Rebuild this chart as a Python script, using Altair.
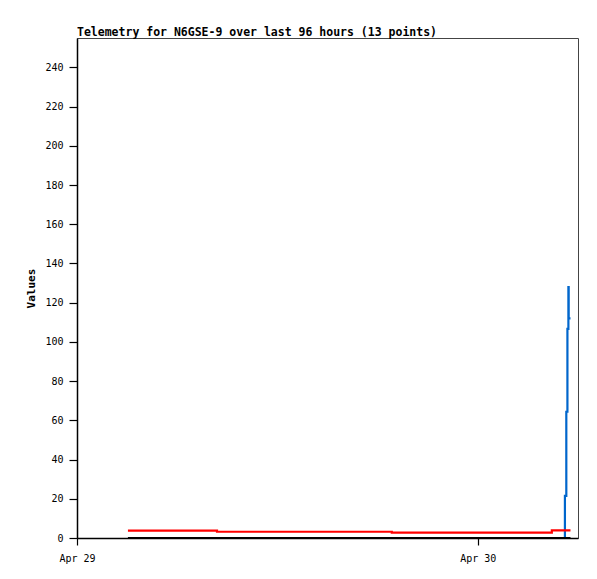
import altair as alt
import pandas as pd

# times (UTC) and values per series
black_times = ["2024-04-29T03:03:00Z", "2024-04-29T08:23:00Z", "2024-04-29T13:30:00Z",
               "2024-04-29T18:51:00Z", "2024-04-29T23:30:00Z", "2024-04-30T04:26:00Z",
               "2024-04-30T05:33:00Z"]
black_vals = [0, 0, 0, 0, 0, 0, 0]

red_times = ["2024-04-29T03:03:00Z", "2024-04-29T08:23:00Z", "2024-04-29T13:30:00Z",
             "2024-04-29T18:51:00Z", "2024-04-29T23:30:00Z", "2024-04-30T04:26:00Z",
             "2024-04-30T05:33:00Z"]
red_vals = [3.8, 3.2, 3.2, 2.7, 2.7, 3.9, 3.9]

blue_times = ["2024-04-29T03:03:00Z", "2024-04-30T05:13:00Z", "2024-04-30T05:18:00Z",
              "2024-04-30T05:22:00Z", "2024-04-30T05:25:30Z", "2024-04-30T05:26:30Z",
              "2024-04-30T05:33:00Z"]
blue_vals = [0, 21.5, 64.4, 106.7, 128, 112, 112]

y_ticks = list(range(0, 241, 20))

df_black = pd.DataFrame({"t": black_times, "v": black_vals})
df_red = pd.DataFrame({"t": red_times, "v": red_vals})
df_blue = pd.DataFrame({"t": blue_times, "v": blue_vals})

x_enc = alt.X(
    "t:T",
    scale=alt.Scale(type="utc",
                    domain=[alt.DateTime(year=2024, month=4, date=29, hours=0, utc=True),
                            alt.DateTime(year=2024, month=4, date=30, hours=6, utc=True)]),
    axis=alt.Axis(
        title=None,
        labelExpr="utcFormat(datum.value, '%b %d')",
        values=[alt.DateTime(year=2024, month=4, date=29, utc=True),
                alt.DateTime(year=2024, month=4, date=30, utc=True)],
        grid=False, tickSize=7, labelPadding=8, labelFlush=False,
    ),
)
y_enc = alt.Y(
    "v:Q",
    scale=alt.Scale(domain=[0, 255], nice=False, zero=True),
    axis=alt.Axis(title="Values", values=y_ticks, grid=False, tickSize=8,
                  labelPadding=6, titlePadding=8),
)

def line(df, color):
    return alt.Chart(df).mark_line(interpolate="step-after", color=color,
                                   strokeWidth=2.2, clip=True).encode(x=x_enc, y=y_enc)

chart = alt.layer(
    line(df_blue, "#0066cc"),
    line(df_black, "#000000"),
    line(df_red, "#ff0000"),
).properties(
    width=501, height=500,
    background="white",
    title=alt.TitleParams("Telemetry for N6GSE-9 over last 96 hours (13 points)",
                          anchor="start", frame="group", font="DejaVu Sans Mono",
                          fontSize=11.5, fontWeight="bold", color="black", offset=0),
    autosize=alt.AutoSizeParams(type="none"),
    padding={"left": 69, "top": 30, "right": 11, "bottom": 33},
).configure_view(
    stroke="#444444", strokeWidth=1
).configure_axis(
    labelFont="DejaVu Sans Mono", labelFontSize=10, labelColor="black",
    titleFont="DejaVu Sans Mono", titleFontSize=11, titleFontWeight="bold",
    titleColor="black", domainColor="black", tickColor="black", domainWidth=1.5,
    tickWidth=1.2,
)

chart.save("out.html", embed_options={"renderer": "svg", "actions": False})
